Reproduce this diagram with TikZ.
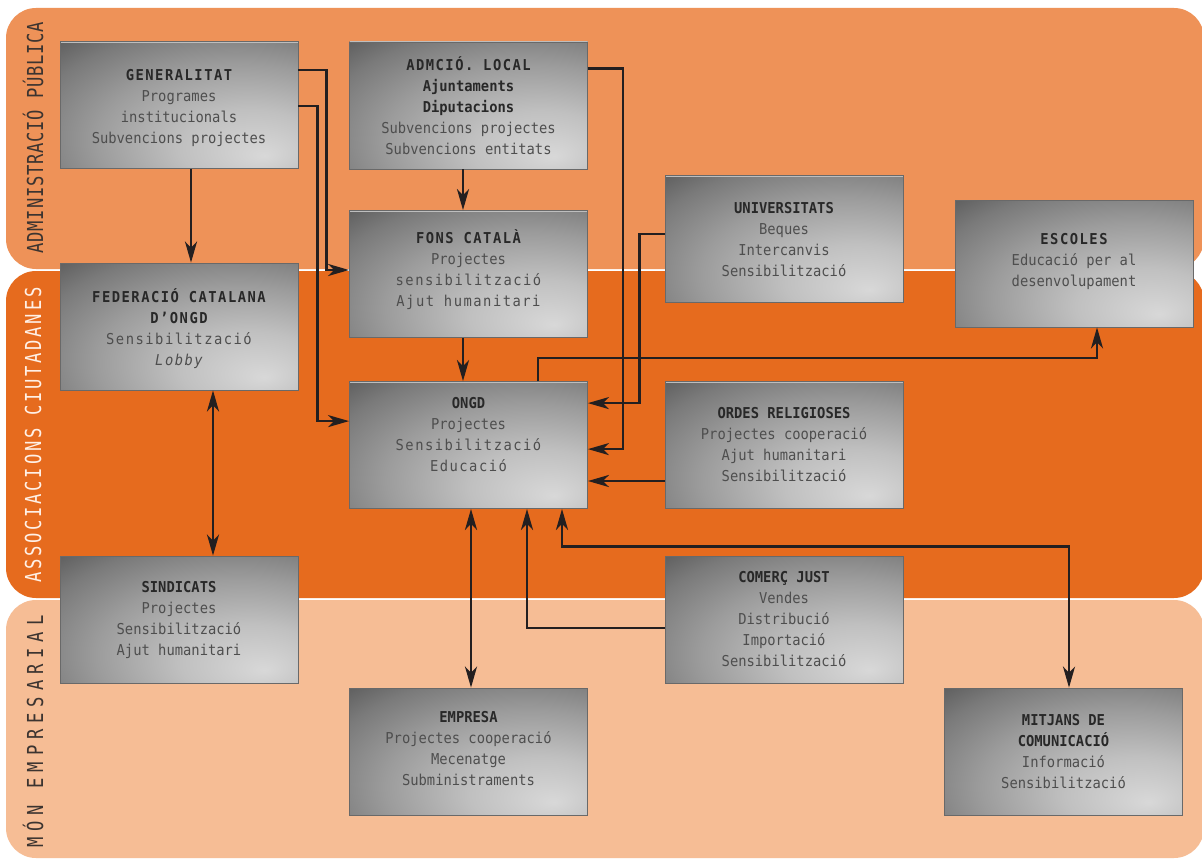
\documentclass[tikz,border=0pt]{standalone}
\usepackage{fontspec}
\usetikzlibrary{arrows.meta,calc}
\newfontfamily\boxfont[FakeStretch=0.92]{DejaVu Sans Mono}
\newfontfamily\bandfont[FakeStretch=0.78]{DejaVu Sans Mono}
\definecolor{bandA}{RGB}{238,146,88}
\definecolor{bandB}{RGB}{230,107,30}
\definecolor{bandC}{RGB}{246,189,149}
\definecolor{labdark}{RGB}{60,52,48}
\definecolor{lablight}{RGB}{255,240,230}
\definecolor{linec}{RGB}{35,31,32}
\definecolor{titlec}{RGB}{40,40,40}
\definecolor{bodyc}{RGB}{78,78,78}
\definecolor{bxA}{RGB}{216,216,216}
\definecolor{bxB}{RGB}{192,192,192}
\definecolor{bxC}{RGB}{156,156,156}
\definecolor{bxD}{RGB}{122,122,122}
\definecolor{bxE}{RGB}{85,85,85}
\definecolor{bxF}{RGB}{58,58,58}
\definecolor{bxborder}{RGB}{105,105,105}
\definecolor{bxtop}{RGB}{190,190,190}
\pgfdeclareradialshading{boxshade}{\pgfpoint{18bp}{-20bp}}{color(0bp)=(bxA); color(15bp)=(bxB); color(30bp)=(bxC); color(42bp)=(bxD); color(52bp)=(bxE); color(62bp)=(bxF); color(100bp)=(bxF)}
\newcommand\ttl[1]{{\color{titlec}\bfseries #1}}
\newcommand\lspaced[1]{{\addfontfeature{LetterSpace=10}#1}}
\begin{document}
\begin{tikzpicture}[x=1pt,y=-1pt,
  box/.style={shade, shading=boxshade, draw=bxborder, line width=0.8pt, minimum width=238pt, minimum height=127pt, inner sep=0pt,
    path picture={\draw[bxtop, line width=2.5pt] (path picture bounding box.north west) -- (path picture bounding box.north east);}},
  txt/.style={align=center, inner sep=0pt, text=bodyc, font=\boxfont\fontsize{15}{21}\selectfont},
  bandlab/.style={rotate=90, inner sep=0pt},
  arr/.style={draw=linec, line width=2.6pt, -{Stealth[length=21pt,width=12pt,inset=6pt]}},
  darr/.style={draw=linec, line width=2.6pt, {Stealth[length=21pt,width=12pt,inset=6pt]}-{Stealth[length=21pt,width=12pt,inset=6pt]}}]
\useasboundingbox (0,0) rectangle (1202,859);
\fill[white] (0,0) rectangle (1202,859);
% bands
\fill[bandA, rounded corners=30pt] (6,8) rectangle (1204,269);
\fill[bandB, rounded corners=30pt] (6,271) rectangle (1204,598);
\fill[bandC, rounded corners=30pt] (6,600) rectangle (1204,858);
\node[bandlab, text=labdark, font=\bandfont\fontsize{22}{22}\selectfont\addfontfeature{LetterSpace=3.5}] (lab1) at (33,137.5) {ADMINISTRACIÓ PÚBLICA};
\node[bandlab, text=lablight, font=\bandfont\fontsize{22}{22}\selectfont\addfontfeature{LetterSpace=12.4}] (lab2) at (33,435) {ASSOCIACIONS CIUTADANES};
\node[bandlab, text=labdark, font=\bandfont\fontsize{22}{22}\selectfont\addfontfeature{LetterSpace=27}] (lab3) at (33,731.5) {MÓN EMPRESARIAL};
% boxes
\node[box] (gen) at (179,105) {};
\node[box] (adm) at (468.5,105.5) {};
\node[box] (fons) at (468.5,274) {};
\node[box] (fed) at (179,326.5) {};
\node[box] (ongd) at (468.5,445) {};
\node[box] (univ) at (784,239) {};
\node[box] (esc) at (1074,263.5) {};
\node[box] (ordes) at (784,445) {};
\node[box] (sind) at (179,619.5) {};
\node[box] (comerc) at (784,619.5) {};
\node[box] (emp) at (468.5,751.5) {};
\node[box] (mit) at (1063.5,751.5) {};
% texts
\node[txt] (gen-t) at (179,107.5) {\ttl{\lspaced{GENERALITAT}}\\Programes\\institucionals\\Subvencions projectes};
\node[txt] (adm-t) at (468.5,105.5) {\ttl{\lspaced{ADMCIÓ. LOCAL}}\\\ttl{Ajuntaments}\\\ttl{Diputacions}\\Subvencions projectes\\Subvencions entitats};
\node[txt] (fons-t) at (468.5,270) {\ttl{\lspaced{FONS CATALÀ}}\\Projectes\\\lspaced{sensibilització}\\\lspaced{Ajut humanitari}};
\node[txt] (fed-t) at (179,329) {\ttl{\lspaced{FEDERACIÓ CATALANA}}\\\ttl{\lspaced{D’ONGD}}\\\lspaced{Sensibilització}\\\lspaced{\itshape Lobby}};
\node[txt] (ongd-t) at (468.5,434.5) {\ttl{ONGD}\\Projectes\\\lspaced{Sensibilització}\\\lspaced{Educació}};
\node[txt] (univ-t) at (784,239.5) {\ttl{UNIVERSITATS}\\Beques\\Intercanvis\\Sensibilització};
\node[txt] (esc-t) at (1074,261) {\ttl{\lspaced{ESCOLES}}\\Educació per al\\desenvolupament};
\node[txt] (ordes-t) at (784,444.5) {\ttl{ORDES RELIGIOSES}\\Projectes cooperació\\Ajut humanitari\\Sensibilització};
\node[txt] (sind-t) at (179,620) {\ttl{SINDICATS}\\Projectes\\Sensibilització\\Ajut humanitari};
\node[txt] (comerc-t) at (784,619) {\ttl{COMERÇ JUST}\\Vendes\\Distribució\\Importació\\Sensibilització};
\node[txt] (emp-t) at (468.5,748.5) {\ttl{EMPRESA}\\Projectes cooperació\\Mecenatge\\Subministraments};
\node[txt] (mit-t) at (1063.5,751.5) {\ttl{MITJANS DE}\\\ttl{COMUNICACIÓ}\\Informació\\Sensibilització};
% connectors
\draw[arr] ([xshift=12pt]gen.south) -- ([xshift=12pt]fed.north);
\draw[arr] ([yshift=-29pt]gen.north east) -- ++(28,0) |- ([yshift=4pt]fons.west);
\draw[arr] ([yshift=-65pt]gen.north east) -- ++(19,0) |- ([yshift=-40pt]ongd.north west);
\draw[arr] ([xshift=-5.5pt]adm.south) -- ([xshift=-5.5pt]fons.north);
\draw[arr] ([xshift=-5.5pt]fons.south) -- ([xshift=-5.5pt]ongd.north);
\draw[arr] ([yshift=-27pt]adm.north east) -- ++(35,0) |- ([yshift=-68pt]ongd.north east);
\draw[arr] ([yshift=5pt]univ.west) -- ++(-25,0) |- ([yshift=-22pt]ongd.north east);
\draw[arr] ([yshift=-36pt]ordes.west) -- ([yshift=-36pt]ongd.east);
\draw[arr] ([xshift=69.5pt]ongd.north) -- ++(0,-23) -| ([xshift=23pt]esc.south);
\draw[darr] ([xshift=34pt]fed.south) -- ([xshift=34pt]sind.north);
\draw[darr] ([xshift=2.5pt]ongd.south) -- ([xshift=2.5pt]emp.north);
\draw[arr] ([yshift=-8.5pt]comerc.west) -| ([xshift=58.5pt]ongd.south);
\draw[darr] ([xshift=93.5pt]ongd.south) -- ++(0,37.5) -| ([xshift=5.5pt]mit.north);
\end{tikzpicture}
\end{document}
